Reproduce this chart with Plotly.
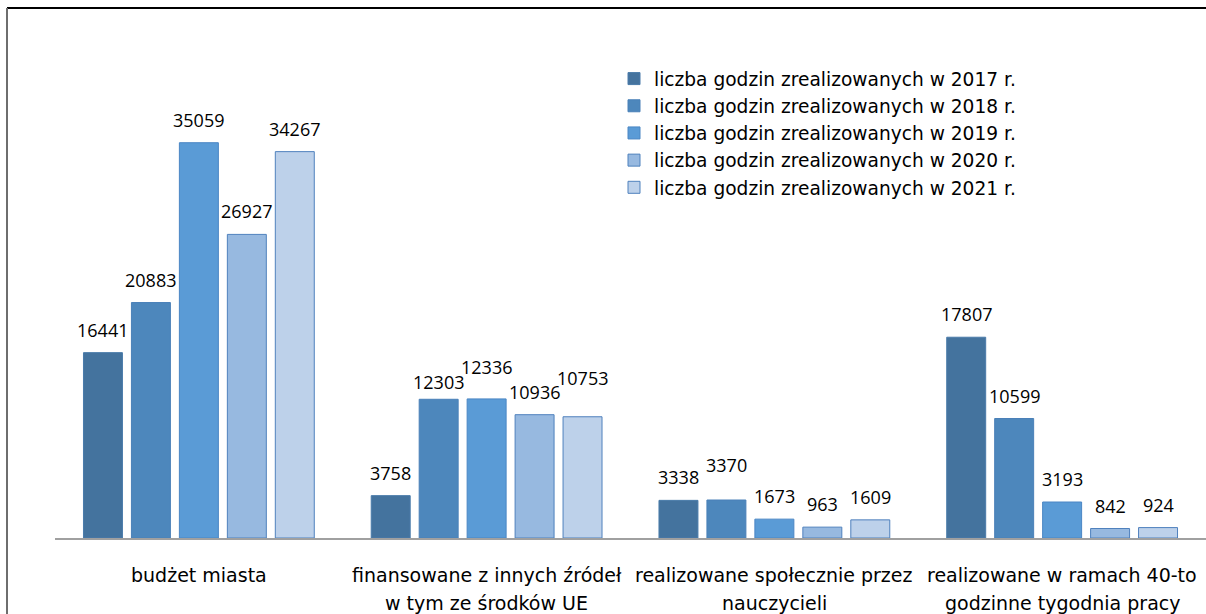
import plotly.graph_objects as go

categories = [
    "budżet miasta",
    "finansowane z innych źródeł<br>w tym ze środków UE",
    "realizowane społecznie przez<br>nauczycieli",
    "realizowane w ramach 40-to<br>godzinne tygodnia pracy",
]
series_names = [
    "liczba godzin zrealizowanych w 2017 r.",
    "liczba godzin zrealizowanych w 2018 r.",
    "liczba godzin zrealizowanych w 2019 r.",
    "liczba godzin zrealizowanych w 2020 r.",
    "liczba godzin zrealizowanych w 2021 r.",
]
values_2017 = [16441, 3758, 3338, 17807]
values_2018 = [20883, 12303, 3370, 10599]
values_2019 = [35059, 12336, 1673, 3193]
values_2020 = [26927, 10936, 963, 842]
values_2021 = [34267, 10753, 1609, 924]
all_values = [values_2017, values_2018, values_2019, values_2020, values_2021]

colors = ["#44739E", "#4D87BC", "#5A9BD6", "#97B9E0", "#BDD1EA"]
borders = ["#4A7BAA", "#4A80B8", "#4A86C4", "#4F81BD", "#4F81BD"]

NUM_FONT = "Open Sans"
TXT_FONT = "DejaVu Sans"
BARGAP = 48 / 288
NS = len(series_names)

# manual label nudges (pixels), as in the original chart: (series, category) -> dy
label_nudge = {(1, 1): -6, (2, 1): 9, (4, 1): 16, (1, 2): 12}

fig = go.Figure()
for i, (name, vals) in enumerate(zip(series_names, all_values)):
    fig.add_trace(go.Bar(
        x=categories, y=vals, name=name,
        marker=dict(color=colors[i], line=dict(color=borders[i], width=1)),
        hoverinfo="skip",
    ))

L, T, B = 55, 87, 76
W, H = 1206, 614
pw, ph = W - L, H - T - B


def px_x(p):
    return (p - L) / pw


def px_y(p):
    return (H - B - p) / ph


annotations = []
slot = (1 - BARGAP) / NS
for i, vals in enumerate(all_values):
    for c, v in enumerate(vals):
        annotations.append(dict(
            x=c + (i - (NS - 1) / 2) * slot, y=v, xref="x", yref="y",
            text=str(v), showarrow=False, yanchor="middle", xanchor="center",
            yshift=23 + label_nudge.get((i, c), 0),
            font=dict(family=NUM_FONT, size=18, color="#000000"),
        ))

# category labels (two lines with the original's wider line spacing)
for c, cat in enumerate(categories):
    for k, line in enumerate(cat.split("<br>")):
        annotations.append(dict(
            x=c, xref="x", y=px_y(575 + 28 * k), yref="paper",
            text=line, showarrow=False, xanchor="center", yanchor="middle",
            font=dict(family=TXT_FONT, size=19, color="#000000"),
        ))

shapes = [
    dict(type="line", xref="paper", yref="paper", x0=px_x(7), x1=px_x(1210),
         y0=px_y(8), y1=px_y(8), line=dict(color="#000000", width=2)),
    dict(type="line", xref="paper", yref="paper", x0=px_x(7), x1=px_x(7),
         y0=px_y(8), y1=px_y(620), line=dict(color="#6E6E6E", width=2)),
]

fig.update_layout(
    width=W, height=H,
    margin=dict(l=L, r=0, t=T, b=B, pad=0),
    paper_bgcolor="white", plot_bgcolor="white",
    barmode="group", bargap=BARGAP, bargroupgap=9 / 48,
    font=dict(family=TXT_FONT, size=18, color="#000000"),
    showlegend=True,
    legend=dict(
        x=px_x(614), y=px_y(60), xanchor="left", yanchor="top",
        font=dict(family=TXT_FONT, size=18.6, color="#000000"),
        bgcolor="rgba(0,0,0,0)", itemwidth=30, tracegroupgap=0,
    ),
    xaxis=dict(
        type="category", range=[-0.5, 3.5], showline=True, linecolor="#A0A0A0",
        linewidth=2, showgrid=False, zeroline=False, showticklabels=False,
        ticks="", fixedrange=True,
    ),
    yaxis=dict(range=[0, 40000], visible=False, showgrid=False, zeroline=False,
               fixedrange=True),
    annotations=annotations,
    shapes=shapes,
)

fig.write_html(
    "out.html",
    config={"displayModeBar": False},
    post_script="document.body.style.margin='0';document.body.style.overflow='hidden';",
)
